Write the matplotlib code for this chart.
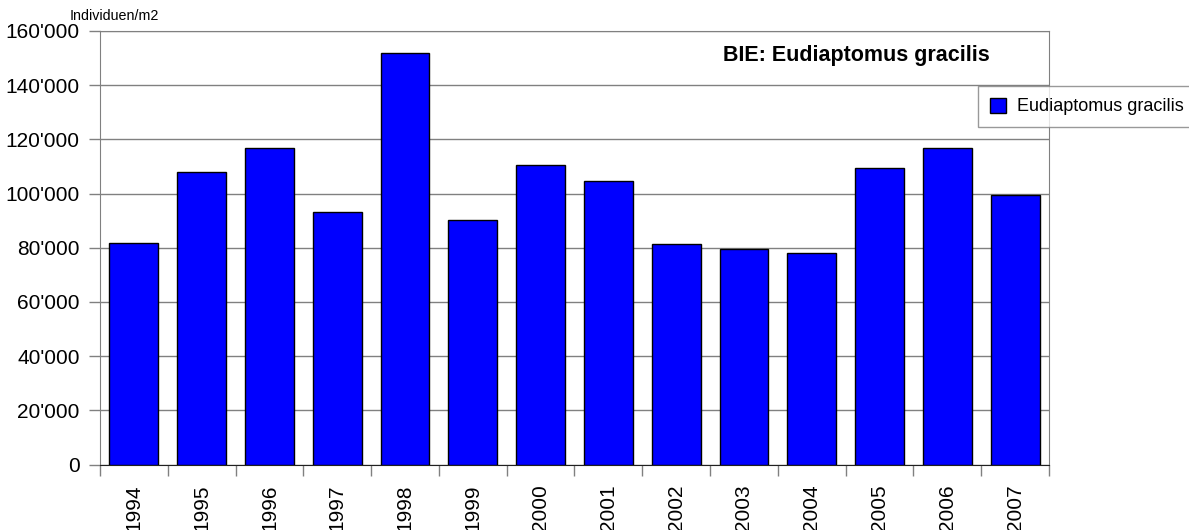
import matplotlib.pyplot as plt
import numpy as np
from matplotlib.ticker import FuncFormatter, FixedLocator

plt.rcParams['font.family'] = ['Liberation Sans', 'DejaVu Sans']

years = ['1994', '1995', '1996', '1997', '1998', '1999', '2000',
         '2001', '2002', '2003', '2004', '2005', '2006', '2007']
values = [81600, 107900, 117000, 93300, 151700, 90100, 110400,
          104500, 81500, 79400, 78200, 109500, 116700, 99400]

fig = plt.figure(figsize=(11.89, 5.30), dpi=100)
ax = fig.add_axes([100 / 1189, 1 - 464.5 / 530, 949 / 1189, 433.5 / 530])

x = np.arange(len(years))
ax.bar(x, values, width=0.72, color='#0000FF', edgecolor='black',
       linewidth=1, label='Eudiaptomus gracilis', zorder=3)

ax.set_xlim(-0.5, len(years) - 0.5)
ax.set_ylim(0, 160000)
ax.set_yticks(np.arange(0, 160001, 20000))
ax.yaxis.set_major_formatter(FuncFormatter(lambda v, p: f"{int(v):,}".replace(',', "'")))
ax.yaxis.grid(True, color='#808080', linewidth=1, zorder=0)

# year labels centred under bars, tick marks between the bars
ax.set_xticks(x)
ax.set_xticklabels(years, rotation=90, fontsize=15)
ax.tick_params(axis='x', which='major', length=0, pad=14.5)
ax.xaxis.set_minor_locator(FixedLocator(np.arange(-0.5, len(years), 1.0)))
ax.tick_params(axis='x', which='minor', length=8, color='#808080', width=1)
ax.tick_params(axis='y', length=8, color='#808080', width=1, labelsize=15, pad=6.5)

for side in ['left', 'right', 'top']:
    ax.spines[side].set_color('#808080')
ax.spines['bottom'].set_color('#202020')

fig.text(70 / 1189, 1 - 16 / 530, 'Individuen/m2', fontsize=10.3, va='center', ha='left')
ax.text(890 / 949, (464.5 - 55) / 433.5, 'BIE: Eudiaptomus gracilis', transform=ax.transAxes,
        ha='right', va='center', fontsize=15.5, fontweight='bold')

leg = fig.legend(loc='upper left', bbox_to_anchor=(978 / 1189, 1 - 86 / 530),
                 fontsize=13, frameon=True, fancybox=False, borderaxespad=0,
                 handlelength=0.9, handleheight=0.9, handletextpad=0.6,
                 borderpad=0.65)
leg.get_frame().set_edgecolor('#808080')
leg.get_frame().set_linewidth(1)

plt.savefig('out.png', dpi=100)
